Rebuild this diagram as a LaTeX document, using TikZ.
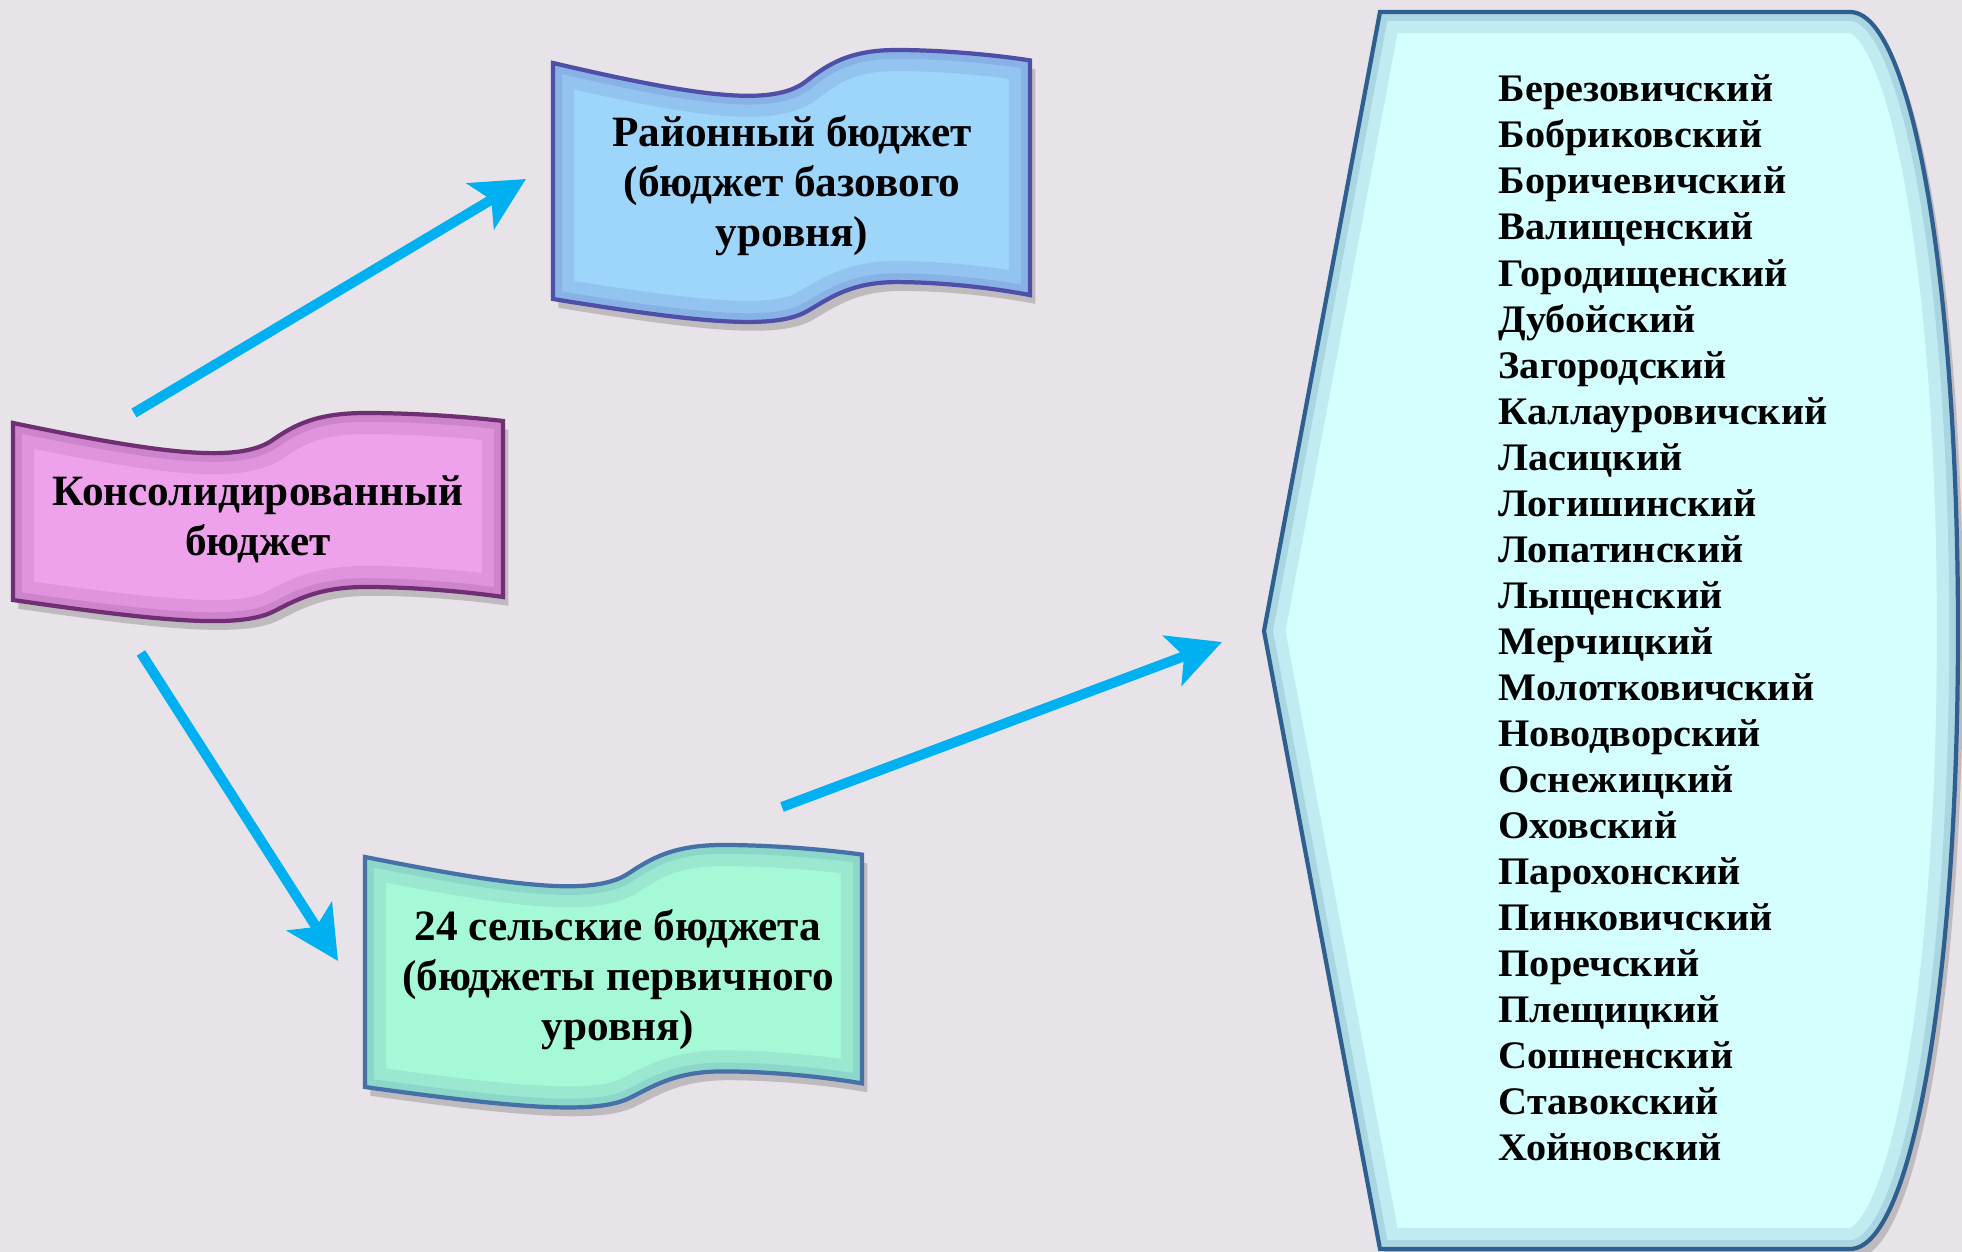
\documentclass[tikz,border=0pt]{standalone}
\usepackage{fontspec}
\setmainfont{Liberation Serif}
\newfontfamily\listfont[FakeStretch=1.03]{Liberation Serif}
\usetikzlibrary{arrows.meta}
\definecolor{bg}{HTML}{E8E3E9}
\definecolor{arrowc}{HTML}{00B0F0}
\definecolor{consfill}{HTML}{EFA2EC}
\definecolor{consline}{HTML}{6E2F73}
\definecolor{raifill}{HTML}{9DD5FB}
\definecolor{railine}{HTML}{4F4FA8}
\definecolor{selfill}{HTML}{A6F9D6}
\definecolor{selline}{HTML}{4570A8}
\definecolor{dispfill}{HTML}{D5FFFF}
\definecolor{displine}{HTML}{2F5F8F}
\tikzset{
  flow/.style={draw=arrowc, line width=2.85pt, -{Stealth[length=15pt,width=15pt,inset=3.5pt]}},
  boxtext/.style={font=\fontsize{12.3}{14.2}\selectfont\bfseries, align=center, inner sep=0pt},
  listtext/.style={font=\listfont\fontsize{11.1}{13.09}\selectfont\bfseries, align=left, inner sep=0pt},
}
% decorate the saved path \curshape
\newcommand\decoshape[2]{%
  \begin{scope}[transform canvas={shift={(1.5pt,-2.5pt)}}]
    \fill[black, opacity=0.18, use path=\curshape];
  \end{scope}
  \fill[#1, use path=\curshape];
  \begin{scope}
    \clip[use path=\curshape];
    \draw[#2, opacity=0.12, line width=12pt, use path=\curshape];
    \draw[#2, opacity=0.15, line width=5pt, use path=\curshape];
  \end{scope}
  \draw[#2, line width=1.2pt, use path=\curshape];
}
% wave banner: x, y (top-left), W, H, dip, peak, fill, line
\newcommand\wavebox[8]{%
  \path[save path=\curshape] (#1,#2)
   .. controls ({#1+0.3*#3},{#2+0.9*#5}) and ({#1+0.46*#3},{#2+1.2*#5}) .. ({#1+0.53*#3},{#2+0.5*#5})
   .. controls ({#1+0.575*#3},{#2+0.05*#5}) and ({#1+0.62*#3},{#2-#6}) .. ({#1+0.72*#3},{#2-#6})
   .. controls ({#1+0.82*#3},{#2-#6}) and ({#1+0.93*#3},{#2-0.6*#6}) .. ({#1+#3},{#2-0.2*#6})
   -- ({#1+#3},{#2-0.3*#6+#4})
   .. controls ({#1+0.93*#3},{#2-0.8*#6+#4}) and ({#1+0.82*#3},{#2-1.3*#6+#4}) .. ({#1+0.72*#3},{#2-1.3*#6+#4})
   .. controls ({#1+0.62*#3},{#2-1.3*#6+#4}) and ({#1+0.575*#3},{#2+0.03*#5+#4}) .. ({#1+0.53*#3},{#2+0.35*#5+#4})
   .. controls ({#1+0.46*#3},{#2+0.84*#5+#4}) and ({#1+0.3*#3},{#2+0.63*#5+#4}) .. (#1,{#2+#4}) -- cycle;
  \decoshape{#7}{#8}%
}
\begin{document}
\begin{tikzpicture}[x=0.01cm,y=-0.01cm]
\fill[bg] (0,0) rectangle (1962,1252);
\useasboundingbox (0,0) rectangle (1962,1252);

% right display shape
\path[save path=\curshape] (1264,631) -- (1380,12) -- (1850,12)
  .. controls (1912,12) and (1958,280) .. (1958,631)
  .. controls (1958,982) and (1912,1249) .. (1850,1249) -- (1380,1249) -- cycle;
\decoshape{dispfill}{displine}

% wave banners
\wavebox{13}{423}{490}{177}{34}{10}{consfill}{consline}
\wavebox{553}{63}{477}{236}{37}{13}{raifill}{railine}
\wavebox{365}{857}{497}{230}{33}{12}{selfill}{selline}

% texts
\node[boxtext] (cons) at (258,519) {Консолидированный\\бюджет};
\node[boxtext] (rai) at (792,186) {Районный бюджет\\(бюджет базового\\уровня)};
\node[boxtext] (sel) at (618,980) {24 сельские бюджета\\(бюджеты первичного\\уровня)};
\node[listtext, anchor=west] (list) at (1498,618) {Березовичский\\Бобриковский\\Боричевичский\\Валищенский\\Городищенский\\Дубойский\\Загородский\\Каллауровичский\\Ласицкий\\Логишинский\\Лопатинский\\Лыщенский\\Мерчицкий\\Молотковичский\\Новодворский\\Оснежицкий\\Оховский\\Парохонский\\Пинковичский\\Поречский\\Плещицкий\\Сошненский\\Ставокский\\Хойновский};

% arrow ends
\coordinate (a1s) at (134,413);
\coordinate (a1e) at (526,179);
\coordinate (a2s) at (141,653);
\coordinate (a2e) at (338,961);
\coordinate (a3s) at (782,807);
\coordinate (a3e) at (1222,642);
\draw[flow] (a1s) -- (a1e);
\draw[flow] (a2s) -- (a2e);
\draw[flow] (a3s) -- (a3e);
\end{tikzpicture}
\end{document}
